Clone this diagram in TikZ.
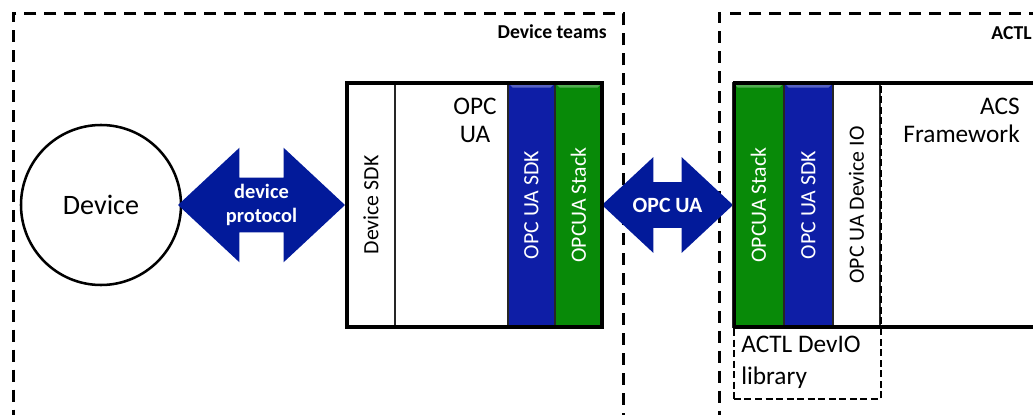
\documentclass[tikz,border=0pt]{standalone}
\usepackage{fontspec}
\setmainfont{Carlito}
\usepackage{xcolor}
\usepackage{tikz}
\usetikzlibrary{arrows.meta,positioning,calc,shapes.arrows}
\definecolor{arrblue}{RGB}{2,26,154}
\definecolor{sdkblue}{RGB}{14,30,166}
\definecolor{stkgreen}{RGB}{8,138,8}

\begin{document}
\begin{tikzpicture}[
 grp/.style={draw,line width=2pt,dash pattern=on 8.5pt off 5.7pt,anchor=north west,inner sep=0pt},
 grplab/.style={anchor=base east,font=\fontsize{14}{16}\selectfont\bfseries,inner sep=0pt},
 stkbox/.style={draw,line width=2.4pt,minimum height=6.1cm,inner sep=0pt},
 col/.style={draw=black!85,line width=0.8pt,rotate=90,minimum width=6.1cm,inner sep=0pt,font=\fontsize{15.5}{18}\selectfont},
 bevel/.style={white,opacity=0.3},
 dbl/.style={double arrow,fill=arrblue,text=white,font=\fontsize{14.5}{17}\selectfont\bfseries,align=center,double arrow tip angle=86,inner xsep=0pt},
 txt/.style={font=\fontsize{18}{20}\selectfont,inner sep=0pt}]
\useasboundingbox (0,0) rectangle (25.825,10.35);
\clip (0,0) rectangle (25.825,10.35);
% group frames
\node[grp,minimum width=15.25cm,minimum height=11cm] (teams) at (0.3,10.05) {};
\node[grplab] (teamslab) at (15.175,9.4) {Device teams};
\node[grp,minimum width=8.5cm,minimum height=11cm] (actl) at (17.95,10.05) {};
\node[grplab] (actllab) at (25.8,9.375) {ACTL};
% device and block arrows
\node[circle,draw,line width=1.8pt,minimum size=4cm,font=\fontsize{20}{24}\selectfont] (dev) at (2.525,5.225) {Device};
\node[dbl,minimum height=4.175cm,double arrow head extend=0.75cm,inner ysep=4.5pt] (proto) at (6.5375,5.225) {device\\protocol};
\node[dbl,minimum height=3.275cm,double arrow head extend=0.625cm,inner ysep=11pt,font=\fontsize{15.5}{18}\selectfont\bfseries] (opcua) at (16.6875,5.225) {OPC UA};
% device side stack
\node[col,fill=white,minimum height=1.2cm] (sdk) at (9.275,5.225) {Device SDK};
\node[col,fill=sdkblue,text=white,minimum height=1.175cm] (lsdk) at (13.2875,5.225) {OPC UA SDK};
\node[col,fill=stkgreen,text=white,minimum height=1.175cm] (lstk) at (14.4625,5.225) {OPCUA Stack};
\foreach \c in {lsdk,lstk}
  \fill[bevel] (\c.north east) -- (\c.south east) -- ++(-0.13,-0.13) -- ($(\c.north east)+(0.13,-0.13)$) -- cycle;
\node[stkbox,minimum width=6.375cm] (lbox) at (11.8625,5.225) {};
\node[txt,align=center,anchor=north] (opc) at (11.875,7.9) {OPC\\UA};
% ACTL side stack
\node[col,fill=stkgreen,text=white,minimum height=1.275cm] (rstk) at (18.9625,5.225) {OPCUA Stack};
\node[col,fill=sdkblue,text=white,minimum height=1.225cm] (rsdk) at (20.2125,5.225) {OPC UA SDK};
\node[col,fill=white,minimum height=1.175cm] (devio) at (21.4125,5.225) {OPC UA Device IO};
\foreach \c in {rstk,rsdk}
  \fill[bevel] (\c.north east) -- (\c.south east) -- ++(-0.13,-0.13) -- ($(\c.north east)+(0.13,-0.13)$) -- cycle;
\node[stkbox,minimum width=8cm,anchor=west] (rbox) at (18.325,5.225) {};
\node[txt,align=right,anchor=north east] (acs) at (25.5,7.9) {ACS\\Framework};
\node[draw,line width=1.3pt,dash pattern=on 5pt off 2.5pt,anchor=north west,minimum width=3.675cm,minimum height=7.875cm,inner sep=0pt] (lib) at (18.325,8.275) {};
\node[txt,font=\fontsize{18}{22.5}\selectfont,align=left,anchor=north west] (libtxt) at (18.525,1.95) {ACTL DevIO\\library};
\end{tikzpicture}
\end{document}
